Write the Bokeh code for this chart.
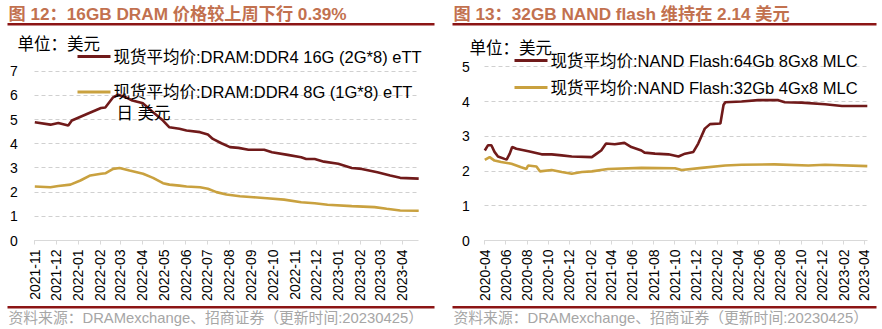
import pandas as pd
from math import pi
from bokeh.plotting import figure
from bokeh.models import Range1d, FixedTicker, DatetimeTickFormatter, Label, BoxAnnotation, ColumnDataSource
from bokeh.layouts import row
from bokeh.embed import file_html
from bokeh.resources import INLINE

# ---------------- data ----------------
dram16_dates = ["2021-11-01", "2021-11-23", "2021-12-04", "2021-12-18", "2021-12-23", "2022-01-14",
                "2022-02-02", "2022-02-08", "2022-02-19", "2022-02-26", "2022-03-09", "2022-03-18",
                "2022-04-02", "2022-04-16", "2022-04-30", "2022-05-09", "2022-05-23", "2022-06-02",
                "2022-06-21", "2022-07-02", "2022-07-09", "2022-07-21", "2022-08-02", "2022-08-14",
                "2022-08-28", "2022-09-19", "2022-09-30", "2022-10-22", "2022-11-10", "2022-11-17",
                "2022-11-29", "2022-12-12", "2023-01-01", "2023-01-20", "2023-02-03", "2023-02-25",
                "2023-03-15", "2023-03-29", "2023-04-24"]
dram16_vals = [4.89, 4.79, 4.86, 4.75, 4.96, 5.24,
               5.48, 5.50, 5.92, 6.03, 5.92, 5.79,
               5.67, 5.30, 4.96, 4.68, 4.62, 4.55,
               4.48, 4.38, 4.20, 4.02, 3.86, 3.83,
               3.75, 3.75, 3.65, 3.54, 3.44, 3.37,
               3.37, 3.26, 3.17, 3.00, 2.96, 2.82,
               2.69, 2.59, 2.56]

dram8_dates = ["2021-11-01", "2021-11-23", "2021-12-04", "2021-12-21", "2022-01-04", "2022-01-18",
               "2022-02-02", "2022-02-08", "2022-02-19", "2022-02-28", "2022-03-14", "2022-04-02",
               "2022-04-16", "2022-04-30", "2022-05-09", "2022-05-23", "2022-06-02", "2022-06-21",
               "2022-07-02", "2022-07-14", "2022-07-28", "2022-08-16", "2022-09-04", "2022-09-23",
               "2022-10-17", "2022-11-10", "2022-11-29", "2022-12-17", "2023-01-20", "2023-02-21",
               "2023-03-10", "2023-03-29", "2023-04-24"]
dram8_vals = [2.23, 2.20, 2.25, 2.31, 2.48, 2.69,
              2.76, 2.78, 2.96, 3.00, 2.89, 2.76,
              2.59, 2.37, 2.31, 2.27, 2.23, 2.20,
              2.14, 2.00, 1.90, 1.83, 1.79, 1.75,
              1.69, 1.58, 1.54, 1.48, 1.42, 1.38,
              1.31, 1.24, 1.23]

nand64_dates = ["2020-04-01", "2020-04-10", "2020-04-20", "2020-04-29", "2020-05-09", "2020-05-28",
                "2020-06-03", "2020-06-12", "2020-06-19", "2020-07-01", "2020-08-05", "2020-09-12",
                "2020-10-11", "2020-11-09", "2020-12-08", "2021-02-04", "2021-02-18", "2021-03-03",
                "2021-03-17", "2021-04-11", "2021-05-09", "2021-05-29", "2021-06-27", "2021-07-06",
                "2021-08-05", "2021-09-13", "2021-10-12", "2021-10-31", "2021-11-24", "2021-12-08",
                "2021-12-27", "2022-01-11", "2022-02-10", "2022-02-19", "2022-02-24", "2022-04-12",
                "2022-05-30", "2022-07-27", "2022-08-15", "2022-10-02", "2022-12-09", "2023-01-27",
                "2023-04-10"]
nand64_vals = [2.59, 2.74, 2.74, 2.55, 2.42, 2.35,
               2.33, 2.50, 2.69, 2.64, 2.57, 2.48,
               2.48, 2.45, 2.42, 2.40, 2.50, 2.59,
               2.79, 2.77, 2.81, 2.69, 2.59, 2.53,
               2.50, 2.48, 2.42, 2.50, 2.55, 2.79,
               3.22, 3.35, 3.37, 3.90, 3.98, 4.00,
               4.04, 4.04, 3.98, 3.97, 3.92, 3.87,
               3.87]

nand32_dates = ["2020-04-01", "2020-04-15", "2020-04-29", "2020-05-18", "2020-06-17", "2020-07-15",
                "2020-07-30", "2020-08-04", "2020-08-28", "2020-09-07", "2020-10-11", "2020-11-09",
                "2020-12-08", "2021-01-06", "2021-02-04", "2021-03-22", "2021-06-27", "2021-10-02",
                "2021-10-21", "2021-12-18", "2022-02-24", "2022-04-12", "2022-07-16", "2022-10-22",
                "2022-12-09", "2023-04-10"]
nand32_vals = [2.32, 2.40, 2.30, 2.26, 2.21, 2.11,
               2.06, 2.16, 2.13, 1.99, 2.03, 1.97,
               1.92, 1.97, 1.99, 2.06, 2.09, 2.08,
               2.03, 2.09, 2.16, 2.18, 2.19, 2.16,
               2.18, 2.14]

left_ticks = ["2021-11", "2021-12", "2022-01", "2022-02", "2022-03", "2022-04", "2022-05", "2022-06",
              "2022-07", "2022-08", "2022-09", "2022-10", "2022-11", "2022-12", "2023-01", "2023-02",
              "2023-03", "2023-04"]
right_ticks = ["2020-04", "2020-06", "2020-08", "2020-10", "2020-12", "2021-02", "2021-04", "2021-06",
               "2021-08", "2021-10", "2021-12", "2022-02", "2022-04", "2022-06", "2022-08", "2022-10",
               "2022-12", "2023-02", "2023-04"]

title_left = "图 12：16GB DRAM 价格较上周下行 0.39%"
title_right = "图 13：32GB NAND flash 维持在 2.14 美元"
unit_text = "单位：美元"
leg_dram16 = "现货平均价:DRAM:DDR4 16G (2G*8) eTT"
leg_dram8 = "现货平均价:DRAM:DDR4 8G (1G*8) eTT"
leg_dram8_b = "日 美元"
leg_nand64 = "现货平均价:NAND Flash:64Gb 8Gx8 MLC"
leg_nand32 = "现货平均价:NAND Flash:32Gb 4Gx8 MLC"
source_text = "资料来源：DRAMexchange、招商证券（更新时间:20230425）"

# ---------------- styling ----------------
FONT = "'Liberation Sans', 'Noto Sans CJK SC', sans-serif"
RED = "#701A1A"
GOLD = "#C9A13F"
TITLE_C = "#C2714F"
RULE_C = "#8C1515"
W, H = 441, 329


def ms(d):
    return pd.Timestamp(d).value / 10**6


def make_panel(xstart, xend, px_start, px_end, ymax, py_zero, py_top, ticks, series, label_standoff,
               title, legs, extra_leg, unit_xy, rule_x):
    # map the plotting frame onto the whole canvas, keeping the data area where the reference has it
    t0, t1 = ms(xstart), ms(xend)
    s = (t1 - t0) / (px_end - px_start)
    k = (py_zero - py_top) / ymax
    p = figure(width=W, height=H, output_backend="svg", toolbar_location=None,
               x_axis_type="datetime",
               x_range=Range1d(t0 - px_start * s, t0 + (W - px_start) * s),
               y_range=Range1d(-(H - py_zero) / k, ymax + py_top / k),
               min_border=0, min_border_left=0, min_border_right=0, min_border_top=0, min_border_bottom=0)
    p.outline_line_color = None
    p.background_fill_color = "white"
    p.border_fill_color = "white"
    for dates, vals, col in series:
        src = ColumnDataSource(dict(x=pd.to_datetime(dates), y=vals))
        p.line("x", "y", source=src, line_color=col, line_width=2.6)
    # x axis
    xa = p.xaxis[0]
    xa.fixed_location = 0
    xa.bounds = (t0, t1)
    xa.ticker = FixedTicker(ticks=[ms(t + "-01") for t in ticks])
    fmt = "%Y-%m"
    xa.formatter = DatetimeTickFormatter(microseconds=fmt, milliseconds=fmt, seconds=fmt, minsec=fmt,
                                         minutes=fmt, hourmin=fmt, hours=fmt, days=fmt, months=fmt,
                                         years=fmt)
    xa.major_label_orientation = pi / 2
    xa.major_label_text_font = FONT
    xa.major_label_text_font_size = "14px"
    xa.major_label_text_color = "black"
    xa.axis_line_color = "#D9D9D9"
    xa.major_tick_line_color = "#D9D9D9"
    xa.major_tick_out = 4
    xa.major_tick_in = 0
    xa.minor_tick_line_color = None
    xa.major_label_standoff = 5
    # y axis
    ya = p.yaxis[0]
    ya.fixed_location = t0
    ya.bounds = (0, ymax)
    ya.axis_line_color = None
    ya.major_tick_line_color = None
    ya.minor_tick_line_color = None
    ya.major_tick_out = 0
    ya.major_tick_in = 0
    ya.ticker = FixedTicker(ticks=list(range(0, ymax + 1)))
    ya.major_label_text_font = FONT
    ya.major_label_text_font_size = "14px"
    ya.major_label_text_color = "black"
    ya.major_label_standoff = label_standoff
    p.xgrid.grid_line_color = None
    g = p.ygrid[0]
    g.grid_line_color = "#D0D0D0"
    g.grid_line_dash = "4 3"
    g.grid_line_width = 1
    g.bounds = (1, ymax)
    if "cross_bounds" in g.properties():
        g.cross_bounds = (t0, t1)

    def lab(x, y, text, size, color="black", bold=False):
        p.add_layout(Label(x=x, y=y, x_units="canvas", y_units="canvas", text=text,
                           text_font=FONT, text_font_size=size, text_color=color,
                           text_font_style="bold" if bold else "normal",
                           text_baseline="middle", text_align="left"))

    def bar(l, r, t, b, color):
        p.add_layout(BoxAnnotation(left=l, right=r, top=t, bottom=b,
                                   left_units="canvas", right_units="canvas",
                                   top_units="canvas", bottom_units="canvas",
                                   fill_color=color, fill_alpha=1, line_color=None, level="overlay"))

    # title + rules + source
    lab(rule_x[0] + 1, 13, title, "17.2px", TITLE_C, bold=True)
    bar(rule_x[0], rule_x[1], 22.5, 25, RULE_C)
    bar(rule_x[0], rule_x[1], 305.5, 308, RULE_C)
    lab(rule_x[0] + 1, 317, source_text, "14.8px", "#A6A6A6")
    # unit
    lab(unit_xy[0], unit_xy[1], unit_text, "16.5px")
    # legend
    for (lx0, lx1, ly, col, text) in legs:
        bar(lx0, lx1, ly - 1.4, ly + 1.4, col)
        lab(lx1 + 3, ly, text, "16.5px")
    if extra_leg:
        lab(extra_leg[0], extra_leg[1], extra_leg[2], "16.5px")
    return p


p1 = make_panel("2021-11-01", "2023-04-24", 34.3, 418.2, 7, 240, 70.7, left_ticks,
                [(dram16_dates, dram16_vals, RED), (dram8_dates, dram8_vals, GOLD)], 17,
                title_left,
                [(77, 110, 56, RED, leg_dram16), (77, 110, 91.5, GOLD, leg_dram8)],
                (116, 112, leg_dram8_b), (17, 43.5), (7, 434))
p2 = make_panel("2020-04-01", "2023-04-10", 43.3, 425.8, 5, 240, 66.3, right_ticks,
                [(nand64_dates, nand64_vals, RED), (nand32_dates, nand32_vals, GOLD)], 15,
                title_right,
                [(73, 106, 60, RED, leg_nand64), (73, 106, 87, GOLD, leg_nand32)],
                None, (28, 47), (11, 435))

layout = row(p1, p2)
open("out.html", "w").write(file_html(layout, INLINE))
